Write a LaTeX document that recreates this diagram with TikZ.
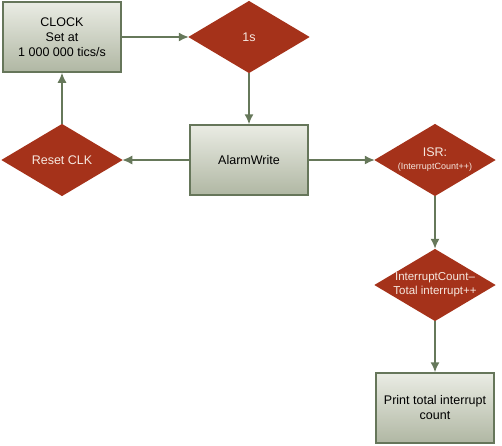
\documentclass[tikz,border=0pt]{standalone}
\usepackage{fontspec}
\setmainfont{Liberation Sans}
\usepackage{xcolor}
\usepackage{tikz}
\usetikzlibrary{positioning}
\usetikzlibrary{shapes.geometric}
\usetikzlibrary{arrows.meta}

\definecolor{boxline}{HTML}{66765A}
\definecolor{boxtop}{HTML}{EAECE4}
\definecolor{boxbottom}{HTML}{B0B7A3}
\definecolor{decfill}{HTML}{A5321A}
\definecolor{dectext}{HTML}{F6E8E0}
\definecolor{arrowcol}{HTML}{66785A}

\begin{document}
\begin{tikzpicture}[-> , >= {Latex[length=10pt, width=9pt]}, line width =1.5 pt, x=1pt, y=1pt,
    node distance=187pt, font=\fontsize{12.5}{15}\selectfont,
    box/.style={rectangle, draw=boxline, top color=boxtop, bottom color=boxbottom,
        minimum width=118pt, minimum height=70pt, align=center, text=black},
    decision/.style={diamond, draw=decfill, fill=decfill, text=dectext, inner sep=-10pt,
        shape aspect=1.7, minimum width=119pt, minimum height=71pt, align=center},
    link/.style={draw=arrowcol}]
        \useasboundingbox (0,0) rectangle (502,-445);

        \node [box] (clock) at (62,-37) {CLOCK\\Set at\\1 000 000 tics/s};
        \node [decision, right of=clock] (sec) {1s};
        \node [box, below of=sec, node distance=123pt] (alarm) {AlarmWrite};
        \node [decision, left of=alarm] (reset) {Reset CLK};
        \node [decision, right of=alarm, node distance=186pt] (isr)
            {ISR:\\[-2pt]{\fontsize{9}{11}\selectfont(InterruptCount++)}};
        \node [decision, below of=isr, node distance=125pt, font=\fontsize{11.5}{14}\selectfont] (count)
            {InterruptCount--\\Total interrupt++};
        \node [box, below of=count, node distance=123pt] (print)
            {Print total interrupt\\count};

        \path (clock) edge[link] (sec);
        \path (sec) edge[link] (alarm);
        \path (alarm) edge[link] (reset);
        \path (reset) edge[link] (clock);
        \path (alarm) edge[link] (isr);
        \path (isr) edge[link] (count);
        \path (count) edge[link] (print);
    \end{tikzpicture}
\end{document}
